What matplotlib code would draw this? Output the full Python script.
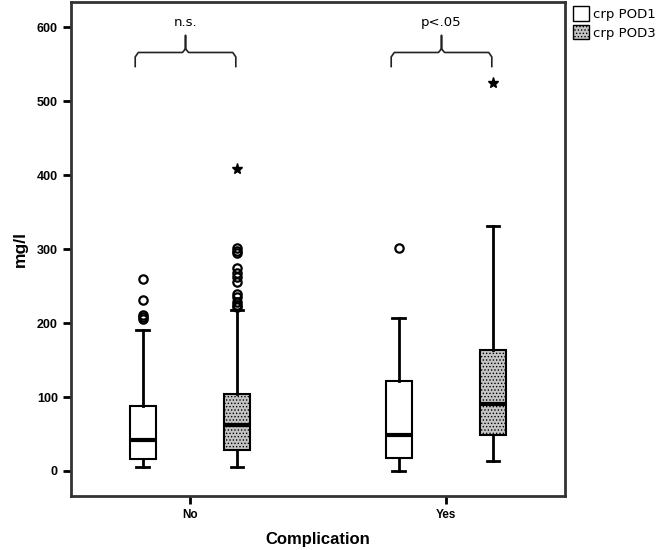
import matplotlib
matplotlib.use("Agg")
import matplotlib.pyplot as plt
from matplotlib.patches import Patch

plt.rcParams['hatch.linewidth'] = 0.6
plt.rcParams['hatch.color'] = '#444444'

groups = ['No', 'Yes']
series = ['crp POD1', 'crp POD3']

# order: No-POD1, No-POD3, Yes-POD1, Yes-POD3
whislo = [5, 5, 0, 13]
q1 = [16, 28, 17, 49]
med = [42, 62, 48, 91]
q3 = [88, 104, 121, 164]
whishi = [190, 218, 207, 331]
outliers = [
    [260, 231, 211, 208, 205],
    [302, 298, 295, 274, 268, 263, 255, 240, 235, 229, 225, 222],
    [301],
    [],
]
extremes = [[], [408], [], [525]]

brackets = [('n.s.', 0), ('p<.05', 1)]

offset = 0.184
width = 0.1
shade = '#c4c4c4'

fig = plt.figure(figsize=(6.57, 5.5), dpi=100)
ax = fig.add_axes([0.108, 0.098, 0.752, 0.898])

stats = []
positions = []
for i in range(4):
    g = i // 2
    s = i % 2
    positions.append(g + (offset if s else -offset))
    stats.append(dict(whislo=whislo[i], q1=q1[i], med=med[i], q3=q3[i],
                      whishi=whishi[i], fliers=outliers[i]))

bp = ax.bxp(stats, positions=positions, widths=width, patch_artist=True,
            showfliers=True,
            boxprops=dict(linewidth=1.5, edgecolor='black'),
            medianprops=dict(color='black', linewidth=3),
            whiskerprops=dict(color='black', linewidth=2),
            capprops=dict(color='black', linewidth=2),
            capwidths=width * 0.5,
            flierprops=dict(marker='o', markerfacecolor='none',
                            markeredgecolor='black', markersize=6,
                            markeredgewidth=1.6))
for i, box in enumerate(bp['boxes']):
    if i % 2:
        box.set_facecolor(shade)
        box.set_hatch('.....')
    else:
        box.set_facecolor('white')

for i in range(4):
    if extremes[i]:
        ax.plot([positions[i]] * len(extremes[i]), extremes[i], marker='*',
                linestyle='none', color='black', markersize=8)

# significance brackets (brace-like)
for label, g in brackets:
    xl = g - offset - 0.03
    xr = g + offset - 0.005
    xm = (xl + xr) / 2
    r = 0.012
    ax.plot([xl, xl, xl + r, xm - r, xm, xm, xm, xm + r, xr - r, xr, xr],
            [547, 560, 566, 566, 571, 589, 571, 566, 566, 560, 547],
            color='#222222', linewidth=1.2)
    ax.text(xm, 598, label, ha='center', va='bottom', fontsize=9.5)

ax.set_xlim(-0.465, 1.465)
ax.set_ylim(-34, 634)
ax.set_xticks([0, 1])
ax.set_xticklabels(groups, fontsize=8.5, fontweight='bold',
                   family='Liberation Sans')
ax.set_yticks([0, 100, 200, 300, 400, 500, 600])
ax.tick_params(axis='y', labelsize=9, width=2, length=6)
ax.tick_params(axis='x', width=2, length=6)
for lab in ax.get_yticklabels():
    lab.set_fontweight('bold')
    lab.set_family('Liberation Sans')
for sp in ax.spines.values():
    sp.set_linewidth(2)
    sp.set_color('#333333')

ax.set_ylabel('mg/l', fontsize=12.5, fontweight='bold', labelpad=6,
              family='Liberation Sans')
ax.set_xlabel('Complication', fontsize=12, fontweight='bold', labelpad=8,
              family='Liberation Sans')

handles = [Patch(facecolor='white', edgecolor='black', label=series[0]),
           Patch(facecolor=shade, edgecolor='black', hatch='.....',
                 label=series[1])]
fig.legend(handles=handles, loc='upper left', bbox_to_anchor=(0.858, 1.005),
           frameon=False, fontsize=9.5, handlelength=1.2, handleheight=1.3,
           handletextpad=0.3, borderpad=0.2, labelspacing=0.3)

fig.savefig('out.png', dpi=100)
